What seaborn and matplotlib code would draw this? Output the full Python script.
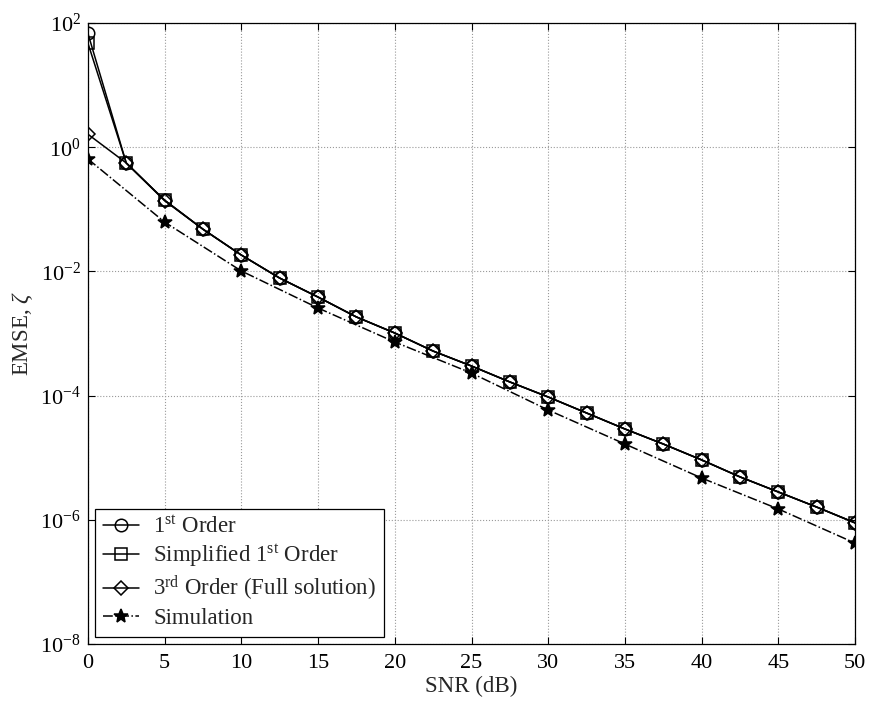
import numpy as np
import pandas as pd
import matplotlib
matplotlib.use("Agg")
import matplotlib.pyplot as plt
import seaborn as sns
from matplotlib.ticker import FixedLocator, FuncFormatter

# SNR grid for the analytical curves and the simulation points
snr_theory = [0, 2.5, 5, 7.5, 10, 12.5, 15, 17.5, 20, 22.5, 25,
              27.5, 30, 32.5, 35, 37.5, 40, 42.5, 45, 47.5, 50]
snr_sim = [0, 5, 10, 15, 20, 25, 30, 35, 40, 45, 50]

emse_first = [69, 0.56, 0.141, 0.048, 0.0184, 0.00783, 0.00387, 0.00185,
              0.00102, 0.000522, 0.0003, 0.000166, 9.5e-5, 5.25e-5, 2.9e-5,
              1.66e-5, 9.2e-6, 4.9e-6, 2.8e-6, 1.6e-6, 8.9e-7]
emse_simplified = [48, 0.56, 0.141, 0.048, 0.0184, 0.00783, 0.00387, 0.00185,
                   0.00102, 0.000522, 0.0003, 0.000166, 9.5e-5, 5.25e-5, 2.9e-5,
                   1.66e-5, 9.2e-6, 4.9e-6, 2.8e-6, 1.6e-6, 8.9e-7]
emse_third = [1.63, 0.56, 0.138, 0.048, 0.0184, 0.00783, 0.00387, 0.00185,
              0.00102, 0.000522, 0.0003, 0.000166, 9.5e-5, 5.25e-5, 2.9e-5,
              1.66e-5, 9.2e-6, 4.9e-6, 2.8e-6, 1.6e-6, 8.9e-7]
emse_sim = [0.65, 0.0625, 0.0102, 0.00258, 0.00073, 0.000231, 5.86e-5,
            1.66e-5, 4.7e-6, 1.49e-6, 4.2e-7]

x_ticks = [0, 5, 10, 15, 20, 25, 30, 35, 40, 45, 50]
y_ticks = [1e2, 1e0, 1e-2, 1e-4, 1e-6, 1e-8]

labels = ["1$^{\\rm st}$ Order",
          "Simplified 1$^{\\rm st}$ Order",
          "3$^{\\rm rd}$ Order (Full solution)",
          "Simulation"]

sns.set_theme(style="ticks")
plt.rcParams["font.family"] = ["Liberation Serif", "DejaVu Serif"]
plt.rcParams["mathtext.fontset"] = "custom"
plt.rcParams["mathtext.rm"] = "Liberation Serif"
plt.rcParams["mathtext.it"] = "Liberation Serif:italic"
plt.rcParams["mathtext.bf"] = "Liberation Serif:bold"

fig = plt.figure(figsize=(8.7, 7.03), dpi=100)
ax = fig.add_axes([0.101, 0.084, 0.882, 0.883])

common = dict(ax=ax, color="black", linewidth=1.1, markersize=9,
              markeredgewidth=1.1, markeredgecolor="black")

sns.lineplot(x=snr_theory, y=emse_first, marker="o", fillstyle="none",
             linestyle="-", label=labels[0], **common)
sns.lineplot(x=snr_theory, y=emse_simplified, marker="s", fillstyle="none",
             linestyle="-", label=labels[1], **{**common, "markersize": 8})
sns.lineplot(x=snr_theory, y=emse_third, marker="D", fillstyle="none",
             linestyle="-", label=labels[2], **{**common, "markersize": 7})
sns.lineplot(x=snr_sim, y=emse_sim, marker="*", linestyle="-.",
             label=labels[3], markerfacecolor="black",
             **{**common, "markersize": 10})

ax.set_yscale("log")
ax.set_xlim(0, 50)
ax.set_ylim(1e-8, 1e2)
ax.xaxis.set_major_locator(FixedLocator(x_ticks))
ax.yaxis.set_major_locator(FixedLocator(y_ticks))
ax.yaxis.set_minor_locator(FixedLocator([]))
ax.yaxis.set_major_formatter(
    FuncFormatter(lambda v, _: "$10^{%d}$" % int(round(np.log10(v)))))

ax.grid(True, which="major", linestyle=":", color="#9a9a9a", linewidth=0.8)
ax.tick_params(axis="both", which="both", direction="in", top=True,
               right=True, length=5, width=0.8, labelsize=16, pad=5,
               colors="black")
ax.tick_params(axis="x", pad=7)
for s in ax.spines.values():
    s.set_visible(True)
    s.set_color("black")
    s.set_linewidth(0.9)

ax.set_xlabel("SNR (dB)", fontsize=16.5, labelpad=2)
ax.set_ylabel("EMSE, $\\zeta$", fontsize=16.5, labelpad=4)

leg = ax.legend(loc="lower left", fontsize=16.5, frameon=True, fancybox=False,
                edgecolor="black", framealpha=1, borderaxespad=0.3,
                handlelength=1.6, handletextpad=0.6, labelspacing=0.2,
                borderpad=0.35)
leg.get_frame().set_linewidth(0.9)

fig.savefig("out.png", dpi=100)
